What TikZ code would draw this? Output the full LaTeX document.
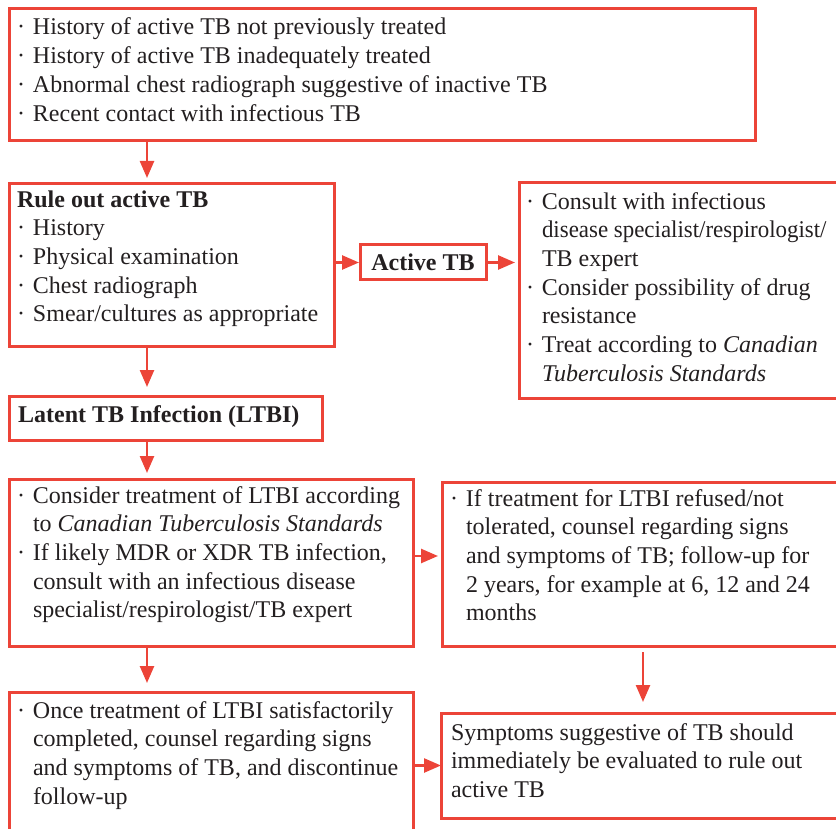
\documentclass[tikz,border=0pt]{standalone}
\usepackage{graphicx}
\usepackage{fontspec}
\setmainfont{Liberation Serif}
\usetikzlibrary{arrows.meta}
\definecolor{tbred}{RGB}{236,68,56}
\definecolor{ink}{RGB}{35,31,32}
\newcommand{\bul}{\makebox[16pt][l]{·}}
\newcommand{\ind}{\hspace*{16pt}}
\begin{document}
\begin{tikzpicture}[x=1pt,y=-1pt,
  box/.style={draw=tbred, line width=3pt, inner sep=0pt, outer sep=0pt, anchor=north west, rectangle},
  bodyfont/.style={text=ink, font=\fontsize{24}{28.7}\selectfont},
  txt/.style={bodyfont, inner sep=0pt, outer sep=0pt, anchor=north west, align=left},
  arr/.style={draw=tbred, line width=2.5pt, -{Triangle[length=17pt,width=14pt]}}]
\useasboundingbox (0,0) rectangle (836,829);
\clip (0,0) rectangle (836,829);

% boxes
\node[box, minimum width=746pt, minimum height=132pt] (b1) at (9,9) {};
\node[box, minimum width=325pt, minimum height=162pt] (b2) at (9,184) {};
\node[box, minimum width=126pt, minimum height=35pt, bodyfont, font=\fontsize{24}{28.7}\selectfont\bfseries] (bact) at (360,245) {Active TB};
\node[box, minimum width=340pt, minimum height=215pt] (b3) at (519,183) {};
\node[box, minimum width=313pt, minimum height=44pt] (bl) at (9,396) {};
\node[box, minimum width=404pt, minimum height=167pt] (b4) at (9,479) {};
\node[box, minimum width=400pt, minimum height=164pt] (b5) at (442,482) {};
\node[box, minimum width=404pt, minimum height=168pt] (b6) at (9,692) {};
\node[box, minimum width=400pt, minimum height=105pt] (b7) at (441,713) {};

% texts
\node[txt] (t1) at (17,14.91) {\strut\bul History of active TB not previously treated\\
\bul History of active TB inadequately treated\\
\bul Abnormal chest radiograph suggestive of inactive TB\\
\bul Recent contact with infectious TB};

\node[txt] (t2) at (17,186.91) {\strut\textbf{Rule out active TB}\\
\bul History\\
\bul Physical examination\\
\bul Chest radiograph\\
\bul Smear/cultures as appropriate};

\node[txt] (t3) at (526,188.91) {\strut\bul Consult with infectious\\
\ind\scalebox{0.955}[1]{disease specialist/respirologist/}\\
\ind TB expert\\
\bul Consider possibility of drug\\
\ind resistance\\
\bul Treat according to \textit{Canadian}\\
\ind\textit{Tuberculosis Standards}};

\node[bodyfont, inner sep=0pt, anchor=base west, font=\fontsize{24}{28.7}\selectfont\bfseries] (tl) at (18,422) {Latent TB Infection (LTBI)};

\node[txt] (t4) at (17,482.91) {\strut\bul Consider treatment of LTBI according\\
\ind to \textit{Canadian Tuberculosis Standards}\\
\bul If likely MDR or XDR TB infection,\\
\ind consult with an infectious disease\\
\ind specialist/respirologist/TB expert};

\node[txt] (t5) at (450,485.91) {\strut\bul If treatment for LTBI refused/not\\
\ind tolerated, counsel regarding signs\\
\ind and symptoms of TB; follow-up for\\
\ind 2 years, for example at 6, 12 and 24\\
\ind months};

\node[txt] (t6) at (17,697.91) {\strut\bul Once treatment of LTBI satisfactorily\\
\ind completed, counsel regarding signs\\
\ind and symptoms of TB, and discontinue\\
\ind follow-up};

\node[txt] (t7) at (451,719.91) {\strut Symptoms suggestive of TB should\\
immediately be evaluated to rule out\\
active TB};

% connectors
\draw[arr, shorten >=6pt] ([xshift=138pt]b1.south west) -- ([xshift=138pt]b2.north west);
\draw[arr, shorten >=9pt] ([xshift=138pt]b2.south west) -- ([xshift=138pt]bl.north west);
\draw[arr, shorten >=6pt] ([xshift=138pt]bl.south west) -- ([xshift=138pt]b4.north west);
\draw[arr, shorten >=9pt] ([xshift=138pt]b4.south west) -- ([xshift=138pt]b6.north west);
\draw[arr, shorten >=1pt] (b2.east |- bact.west) -- (bact.west);
\draw[arr, shorten >=4pt] (bact.east) -- (bact.east -| b3.west);
\draw[arr, shorten >=4pt] ([yshift=6.5pt]b4.east) -- ([yshift=6.5pt]b4.east -| b5.west);
\draw[arr] (b7.west -| b6.east) -- (b7.west);
\draw[arr, shorten <=6pt, shorten >=11pt] ([xshift=201pt]b5.south west) -- ([xshift=201pt]b5.south west |- b7.north);
\end{tikzpicture}
\end{document}
